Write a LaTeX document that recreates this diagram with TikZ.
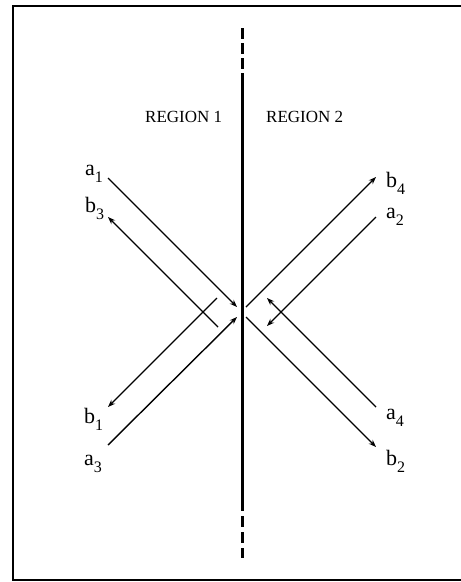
\documentclass[tikz,border=0pt]{standalone}
\usepackage{fontspec}
\setmainfont{Liberation Serif}
\usetikzlibrary{arrows.meta}
\newcommand{\lsub}[1]{\raisebox{-7pt}{\fontsize{16}{16}\selectfont #1}}
\begin{document}
\begin{tikzpicture}[x=1pt,y=-1pt,
  lab/.style={font=\fontsize{22}{22}\selectfont, inner sep=0pt, anchor=base west},
  reg/.style={font=\fontsize{17}{17}\selectfont, inner sep=0pt, anchor=base west},
  wave/.style={line width=1.4pt},
  arr/.style={wave, -{Stealth[length=7.5pt,width=5.5pt]}},
  iface/.style={line width=3pt},
  frame/.style={line width=2pt}]
\useasboundingbox (0,0) rectangle (461,582);
% frame
\coordinate (ftr) at (461,6);
\coordinate (ftl) at (13,6);
\coordinate (fbl) at (13,580);
\coordinate (fbr) at (461,580);
\draw[frame] (ftr) -- (ftl) -- (fbl) -- (fbr);
% interface
\coordinate (it0) at (242,28);
\coordinate (it1) at (242,74);
\coordinate (ib1) at (242,509);
\coordinate (ib0) at (242,558);
\draw[iface, dash pattern=on 11pt off 4pt] (it0) -- (it1);
\draw[iface] (it1) -- (ib1);
\draw[iface, dash pattern=on 2pt off 5pt on 11pt off 5pt on 11pt off 5pt on 11pt] (ib1) -- (ib0);
% region labels
\node[reg] (r1) at (145,122) {REGION 1};
\node[reg] (r2) at (266,122) {REGION 2};
% wave labels
\node[lab] (la1) at (85,175) {a\lsub{1}};
\node[lab] (lb3) at (85,212) {b\lsub{3}};
\node[lab] (lb1) at (84,423) {b\lsub{1}};
\node[lab] (la3) at (84,465) {a\lsub{3}};
\node[lab] (lb4) at (386,187) {b\lsub{4}};
\node[lab] (la2) at (386,218) {a\lsub{2}};
\node[lab] (la4) at (386,419) {a\lsub{4}};
\node[lab] (lb2) at (386,465) {b\lsub{2}};
% endpoints
\coordinate (a1s) at (108,178);  \coordinate (a1e) at (237,307);
\coordinate (a3s) at (108,445);  \coordinate (a3e) at (237,317);
\coordinate (b3s) at (218,327);  \coordinate (b3e) at (108,217);
\coordinate (b1s) at (217,298);  \coordinate (b1e) at (108,407);
\coordinate (b4s) at (246,307);  \coordinate (b4e) at (376,177);
\coordinate (b2s) at (246,317);  \coordinate (b2e) at (376,447);
\coordinate (a2s) at (376,217);  \coordinate (a2e) at (267,326);
\coordinate (a4s) at (376,407);  \coordinate (a4e) at (267,298);
% waves
\draw[arr] (a1s) -- (a1e);
\draw[arr] (a3s) -- (a3e);
\draw[arr] (b3s) -- (b3e);
\draw[arr] (b1s) -- (b1e);
\draw[arr] (b4s) -- (b4e);
\draw[arr] (b2s) -- (b2e);
\draw[arr] (a2s) -- (a2e);
\draw[arr] (a4s) -- (a4e);
\end{tikzpicture}
\end{document}
